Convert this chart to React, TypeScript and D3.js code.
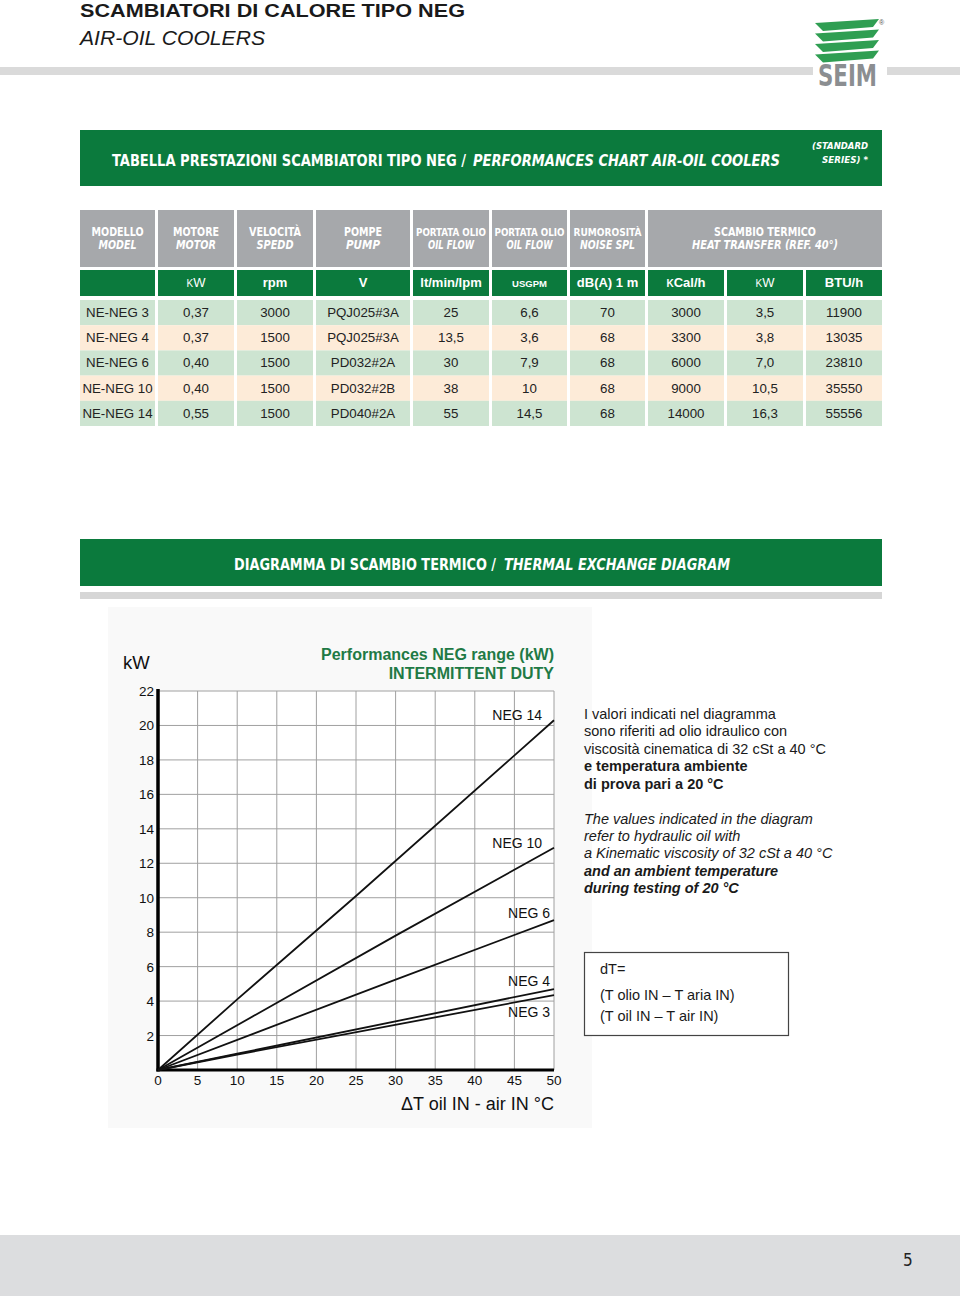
import React from "react";
import * as d3 from "d3";

// ---------- Table data ----------
const models = ["NE-NEG 3", "NE-NEG 4", "NE-NEG 6", "NE-NEG 10", "NE-NEG 14"];
const motorKw = ["0,37", "0,37", "0,40", "0,40", "0,55"];
const speedRpm = ["3000", "1500", "1500", "1500", "1500"];
const pumps = ["PQJ025#3A", "PQJ025#3A", "PD032#2A", "PD032#2B", "PD040#2A"];
const flowLpm = ["25", "13,5", "30", "38", "55"];
const flowGpm = ["6,6", "3,6", "7,9", "10", "14,5"];
const noiseDb = ["70", "68", "68", "68", "68"];
const heatKcal = ["3000", "3300", "6000", "9000", "14000"];
const heatKw = ["3,5", "3,8", "7,0", "10,5", "16,3"];
const heatBtu = ["11900", "13035", "23810", "35550", "55556"];

const headerIt = ["MODELLO", "MOTORE", "VELOCITÀ", "POMPE", "PORTATA OLIO", "PORTATA OLIO", "RUMOROSITÀ", "SCAMBIO TERMICO"];
const headerEn = ["MODEL", "MOTOR", "SPEDD", "PUMP", "OIL FLOW", "OIL FLOW", "NOISE SPL", "HEAT TRANSFER (REF. 40°)"];

// ---------- Chart data ----------
const xTicks = [0, 5, 10, 15, 20, 25, 30, 35, 40, 45, 50];
const yTicks = [2, 4, 6, 8, 10, 12, 14, 16, 18, 20, 22];
const seriesNames = ["NEG 14", "NEG 10", "NEG 6", "NEG 4", "NEG 3"];
const neg14: [number, number][] = [[0, 0], [10, 4.1], [25, 10.1], [50, 20.3]];
const neg10: [number, number][] = [[0, 0], [30, 7.8], [50, 12.9]];
const neg6: [number, number][] = [[0, 0], [30, 5.25], [50, 8.7]];
const neg4: [number, number][] = [[0, 0], [10, 0.95], [50, 4.7]];
const neg3: [number, number][] = [[0, 0], [10, 0.9], [50, 4.35]];
const labelAtX = [48.5, 48.5, 49.5, 49.5, 49.5];
const labelAtY = [20.3, 12.9, 8.8, 4.85, 3.05];

const GREEN = "#0b7a3d";
const SANS = "'Liberation Sans', Arial, Helvetica, sans-serif";
const NARROW = "'Liberation Sans Narrow', 'Arial Narrow', 'DejaVu Sans Condensed', sans-serif";

// table layout
const colX = [80, 158, 237, 316, 413, 492, 570, 648, 727, 806];
const colW = [75, 76, 76, 94, 76, 75, 75, 76, 76, 76];
const hdrLenIt = [52, 46, 52, 38, 70, 70, 68, 102];
const hdrLenEn = [38, 40, 37, 34, 46, 46, 55, 146];
const hdrSizeIt = [13, 13, 13, 13, 11, 11, 11, 13];

export default function App() {
  const x = d3.scaleLinear().domain([0, 50]).range([158, 554]);
  const y = d3.scaleLinear().domain([0, 22]).range([1070, 691]);
  const line = d3
    .line<[number, number]>()
    .x((d) => x(d[0]))
    .y((d) => y(d[1]));
  const series = [neg14, neg10, neg6, neg4, neg3];

  const rows = models.map((m, i) => [
    m, motorKw[i], speedRpm[i], pumps[i], flowLpm[i], flowGpm[i], noiseDb[i], heatKcal[i], heatKw[i], heatBtu[i],
  ]);

  const hdrCells = [0, 1, 2, 3, 4, 5, 6].map((c) => ({ x: colX[c], w: colW[c] }));
  hdrCells.push({ x: colX[7], w: 882 - colX[7] });

  const paraIt = [
    { t: "I valori indicati nel diagramma", b: false },
    { t: "sono riferiti ad olio idraulico con", b: false },
    { t: "viscosità cinematica di 32 cSt a 40 °C", b: false },
    { t: "e temperatura ambiente", b: true },
    { t: "di prova pari a 20 °C", b: true },
  ];
  const paraEn = [
    { t: "The values indicated in the diagram", b: false },
    { t: "refer to hydraulic oil with", b: false },
    { t: "a Kinematic viscosity of 32 cSt a 40 °C", b: false },
    { t: "and an ambient temperature", b: true },
    { t: "during testing of 20 °C", b: true },
  ];

  const stripes = [0, 1, 2, 3];

  return (
    <svg
      width={960}
      height={1296}
      viewBox="0 0 960 1296"
      style={{ position: "absolute", left: 0, top: 0, background: "#fff" }}
      fontFamily={SANS}
    >
      {/* Page header */}
      <text x={80} y={17} fontSize={18.5} fontWeight="bold" fill="#1a1a1a" textLength={385} lengthAdjust="spacingAndGlyphs">
        SCAMBIATORI DI CALORE TIPO NEG
      </text>
      <text x={80} y={45} fontSize={21} fontStyle="italic" fill="#1a1a1a" textLength={185} lengthAdjust="spacingAndGlyphs">
        AIR-OIL COOLERS
      </text>
      <rect x={0} y={67} width={813} height={8} fill="#dadada" />
      <rect x={887} y={67} width={73} height={8} fill="#dadada" />

      {/* Logo */}
      {stripes.map((k) => (
        <polygon
          key={k}
          points={`${815},${23 + k * 10.5} ${879},${19 + k * 10.5} ${873},${27 + k * 10.5} ${823},${31 + k * 10.5}`}
          fill="#2f9e52"
        />
      ))}
      <text x={818} y={86} fontSize={30} fontWeight="bold" fill="#8b8e91" fontFamily={NARROW} textLength={59} lengthAdjust="spacingAndGlyphs">
        SEIM
      </text>
      <text x={879} y={25} fontSize={7} fill="#555">®</text>

      {/* Band 1 */}
      <rect x={80} y={130} width={802} height={56} fill={GREEN} />
      <g fill="#fff" fontFamily={NARROW} fontWeight="bold" fontSize={15}>
        <text x={112} y={166} textLength={354} lengthAdjust="spacingAndGlyphs">
          TABELLA PRESTAZIONI  SCAMBIATORI TIPO NEG /
        </text>
        <text x={473} y={166} fontStyle="italic" textLength={307} lengthAdjust="spacingAndGlyphs">
          PERFORMANCES CHART AIR-OIL COOLERS
        </text>
        <text x={812} y={149} fontSize={9.5} fontStyle="italic" textLength={56} lengthAdjust="spacingAndGlyphs">
          (STANDARD
        </text>
        <text x={822} y={163} fontSize={9.5} fontStyle="italic" textLength={46} lengthAdjust="spacingAndGlyphs">
          SERIES) *
        </text>
      </g>

      {/* Table header row */}
      {hdrCells.map((c, i) => (
        <g key={"h" + i}>
          <rect x={c.x} y={210} width={c.w} height={57} fill="#a6a8ab" />
          <text
            x={c.x + c.w / 2}
            y={236}
            textAnchor="middle"
            fill="#fff"
            fontFamily={NARROW}
            fontWeight="bold"
            fontSize={hdrSizeIt[i]}
            textLength={hdrLenIt[i]}
            lengthAdjust="spacingAndGlyphs"
          >
            {headerIt[i]}
          </text>
          <text
            x={c.x + c.w / 2}
            y={249}
            textAnchor="middle"
            fill="#fff"
            fontFamily={NARROW}
            fontWeight="bold"
            fontStyle="italic"
            fontSize={13}
            textLength={hdrLenEn[i]}
            lengthAdjust="spacingAndGlyphs"
          >
            {headerEn[i]}
          </text>
        </g>
      ))}

      {/* Units row */}
      {colX.map((cx, i) => (
        <rect key={"u" + i} x={cx} y={270} width={colW[i]} height={26} fill={GREEN} />
      ))}
      <g fill="#fff" fontSize={13} fontWeight="bold" textAnchor="middle">
        <text x={colX[1] + colW[1] / 2} y={287} fontWeight="normal">
          <tspan fontSize={10}>K</tspan>W
        </text>
        <text x={colX[2] + colW[2] / 2} y={287}>rpm</text>
        <text x={colX[3] + colW[3] / 2} y={287}>V</text>
        <text x={colX[4] + colW[4] / 2} y={287}>lt/min/lpm</text>
        <text x={colX[5] + colW[5] / 2} y={287} fontSize={9.5}>USGPM</text>
        <text x={colX[6] + colW[6] / 2} y={287}>dB(A) 1 m</text>
        <text x={colX[7] + colW[7] / 2} y={287}>
          <tspan fontSize={10}>K</tspan>Cal/h
        </text>
        <text x={colX[8] + colW[8] / 2} y={287} fontWeight="normal">
          <tspan fontSize={10}>K</tspan>W
        </text>
        <text x={colX[9] + colW[9] / 2} y={287}>BTU/h</text>
      </g>

      {/* Data rows */}
      {rows.map((r, ri) => (
        <g key={"r" + ri}>
          {r.map((v, ci) => (
            <g key={ci}>
              <rect
                x={colX[ci]}
                y={300 + ri * 25.2}
                width={colW[ci]}
                height={25.2}
                fill={ri % 2 === 0 ? "#cde4d1" : "#fdebd8"}
              />
              <text
                x={colX[ci] + colW[ci] / 2}
                y={300 + ri * 25.2 + 17}
                textAnchor="middle"
                fontSize={13.3}
                fill="#222"
              >
                {v}
              </text>
            </g>
          ))}
        </g>
      ))}

      {/* Band 2 */}
      <rect x={80} y={539} width={802} height={47} fill={GREEN} />
      <g fill="#fff" fontFamily={NARROW} fontWeight="bold" fontSize={15}>
        <text x={234} y={570} textLength={262} lengthAdjust="spacingAndGlyphs">
          DIAGRAMMA DI SCAMBIO TERMICO /
        </text>
        <text x={504} y={570} fontStyle="italic" textLength={226} lengthAdjust="spacingAndGlyphs">
          THERMAL EXCHANGE DIAGRAM
        </text>
      </g>
      <rect x={80} y={592} width={802} height={7} fill="#d6d6d6" />

      {/* Chart */}
      <rect x={108} y={607} width={484} height={521} fill="#f9f9f9" />
      <rect x={x(0)} y={y(22)} width={x(50) - x(0)} height={y(0) - y(22)} fill="#fff" />
      {xTicks.map((t) => (
        <line key={"gx" + t} x1={x(t)} x2={x(t)} y1={y(0)} y2={y(22)} stroke="#a0a0a0" strokeWidth={1} />
      ))}
      {yTicks.map((t) => (
        <line key={"gy" + t} x1={x(0)} x2={x(50)} y1={y(t)} y2={y(t)} stroke="#a0a0a0" strokeWidth={1} />
      ))}
      <line x1={x(0)} x2={x(0)} y1={y(22) - 2} y2={y(0) + 1.5} stroke="#000" strokeWidth={3.5} />
      <line x1={x(0) - 1.5} x2={x(50)} y1={y(0)} y2={y(0)} stroke="#000" strokeWidth={3} />
      {series.map((s, i) => (
        <path key={"s" + i} d={line(s) || ""} fill="none" stroke="#111" strokeWidth={1.8} />
      ))}
      {seriesNames.map((n, i) => (
        <text key={"l" + i} x={x(labelAtX[i])} y={y(labelAtY[i])} textAnchor="end" fontSize={14} fill="#111">
          {n}
        </text>
      ))}
      {yTicks.map((t) => (
        <text key={"yt" + t} x={x(0) - 4} y={y(t) + 5} textAnchor="end" fontSize={13.5} fill="#111">
          {t}
        </text>
      ))}
      {xTicks.map((t) => (
        <text key={"xt" + t} x={x(t)} y={1085} textAnchor="middle" fontSize={13.5} fill="#111">
          {t}
        </text>
      ))}
      <text x={123} y={669} fontSize={18.5} fill="#111">kW</text>
      <text x={x(50)} y={1110} textAnchor="end" fontSize={18} fill="#111">
        ΔT oil IN - air IN °C
      </text>
      <text x={x(50)} y={660} textAnchor="end" fontSize={16} fontWeight="bold" fill="#1f7a45">
        Performances NEG range (kW)
      </text>
      <text x={x(50)} y={679} textAnchor="end" fontSize={16} fontWeight="bold" fill="#1f7a45">
        INTERMITTENT DUTY
      </text>

      {/* Notes */}
      {paraIt.map((p, i) => (
        <text key={"pi" + i} x={584} y={719 + i * 17.4} fontSize={14.5} fontWeight={p.b ? "bold" : "normal"} fill="#1a1a1a">
          {p.t}
        </text>
      ))}
      {paraEn.map((p, i) => (
        <text
          key={"pe" + i}
          x={584}
          y={823.5 + i * 17.4}
          fontSize={14.5}
          fontStyle="italic"
          fontWeight={p.b ? "bold" : "normal"}
          fill="#1a1a1a"
        >
          {p.t}
        </text>
      ))}
      <rect x={584.5} y={952.5} width={204} height={83} fill="#fff" stroke="#444" strokeWidth={1.2} />
      <text x={600} y={974} fontSize={14.5} fill="#1a1a1a">dT=</text>
      <text x={600} y={1000} fontSize={14.5} fill="#1a1a1a">(T olio IN – T aria IN)</text>
      <text x={600} y={1021} fontSize={14.5} fill="#1a1a1a">(T oil IN – T air IN)</text>

      {/* Footer */}
      <rect x={0} y={1235} width={960} height={61} fill="#dcdddf" />
      <text x={903} y={1266} fontSize={17} fontFamily={NARROW} fill="#222">5</text>
    </svg>
  );
}
